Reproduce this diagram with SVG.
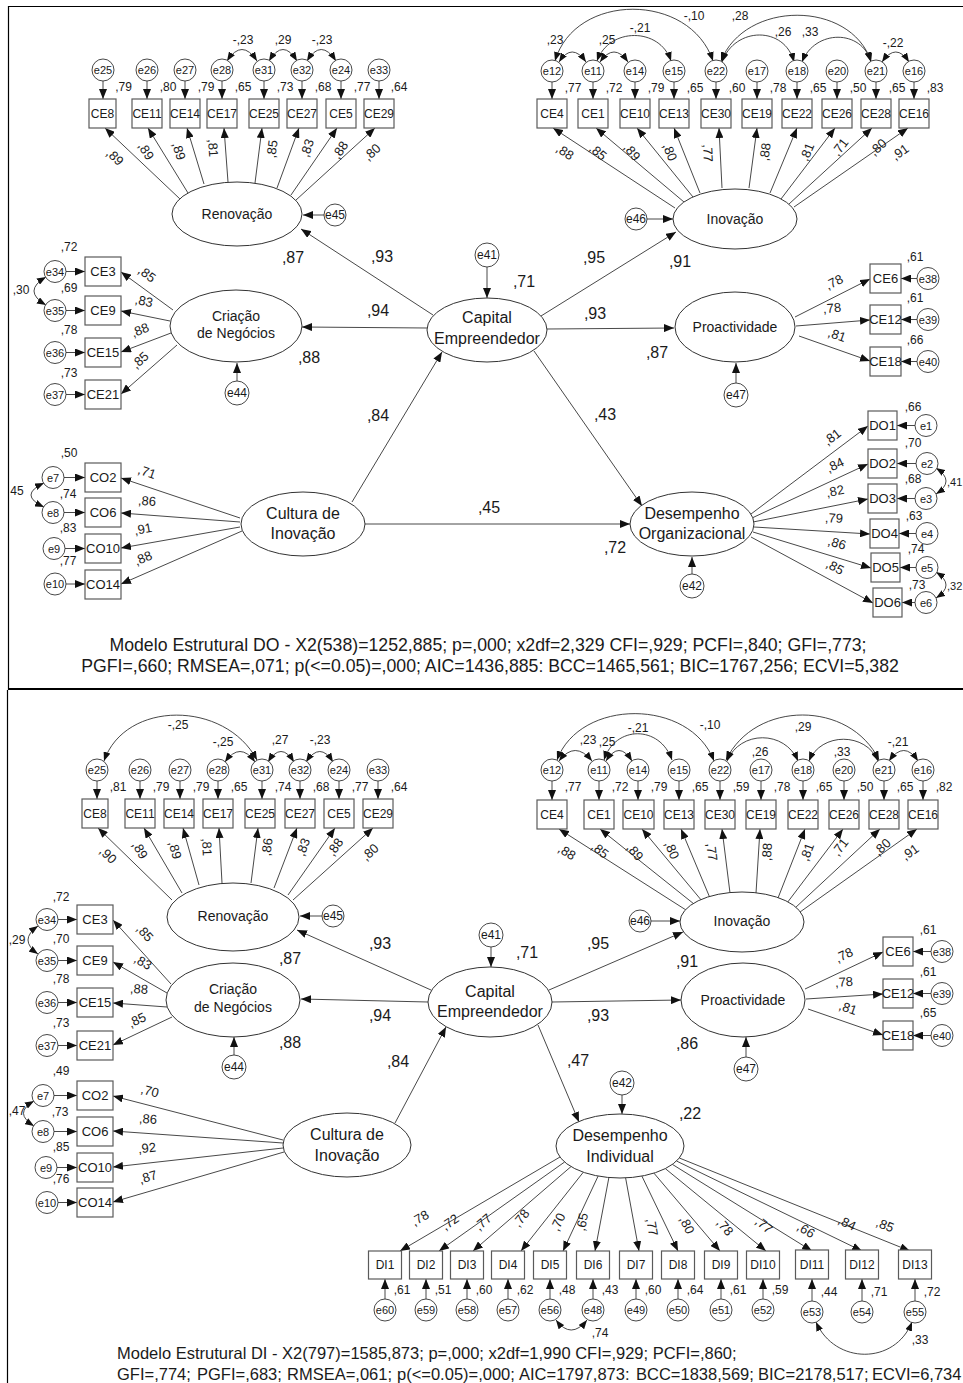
<svg xmlns="http://www.w3.org/2000/svg" width="963" height="1383" viewBox="0 0 963 1383">
<defs>
<style>
text{font-family:"Liberation Sans",Arial,sans-serif;fill:#1a1a1a;text-anchor:middle;dominant-baseline:central}
.bx{fill:#fff;stroke:#5a5a5a;stroke-width:1.2}
.el{fill:#fff;stroke:#333;stroke-width:1}
.ec{fill:#fff;stroke:#333;stroke-width:0.9}
.fr{stroke:#000;fill:none}
#connectors path{fill:none;stroke:#333;stroke-width:0.9}
.ar{marker-end:url(#a)}
.cv{marker-start:url(#s);marker-end:url(#s)}
.b12{font-size:12px}
.b13{font-size:13px}
.e11{font-size:11px}
.e12{font-size:12px}
.l14{font-size:14px}
.l16{font-size:16px}
.v{font-size:12px}
.p{font-size:13px}
.s{font-size:16px}
.cap{text-anchor:start;dominant-baseline:auto;white-space:pre}
</style>
<marker id="a" viewBox="0 0 10 8" refX="10" refY="4" markerWidth="10" markerHeight="8" markerUnits="userSpaceOnUse" orient="auto"><path d="M0,0L10,4L0,8z" fill="#111"/></marker>
<marker id="s" viewBox="0 0 9 7" refX="9" refY="3.5" markerWidth="9" markerHeight="7" markerUnits="userSpaceOnUse" orient="auto-start-reverse"><path d="M0,0L9,3.5L0,7z" fill="#111"/></marker>
</defs>
<rect width="963" height="1383" fill="#fff"/>
<g id="frame" class="fr">
<path d="M8,6.5H963M8.5,6V690" stroke-width="1.2"/>
<path d="M8,689H963" stroke-width="2"/>
<path d="M7.5,690V1383" stroke-width="1.2"/>
</g>

<g id="connectors">
<!-- TOP Renovacao -->
<path class="ar" d="M103,81V99"/><path class="ar" d="M147,81V99"/><path class="ar" d="M185,81V99"/><path class="ar" d="M222,81V99"/>
<path class="ar" d="M264,81V99"/><path class="ar" d="M302,81V99"/><path class="ar" d="M341,81V99"/><path class="ar" d="M379,81V99"/>
<path class="ar" d="M180,199L105,128"/><path class="ar" d="M188,193L148,128"/><path class="ar" d="M204,184L187,128"/><path class="ar" d="M228,182L224,128"/>
<path class="ar" d="M255,183L262,128"/><path class="ar" d="M277,188L299,128"/><path class="ar" d="M291,195L337,128"/><path class="ar" d="M296,200L375,128"/>
<path class="cv" d="M227,61Q242,38 257,61"/><path class="cv" d="M269,61Q283,38 297,61"/><path class="cv" d="M307,61Q321,38 336,61"/>
<path class="ar" d="M324,215H303"/>
<!-- TOP Inovacao -->
<path class="ar" d="M552,82V99"/><path class="ar" d="M593,82V99"/><path class="ar" d="M635,82V99"/><path class="ar" d="M674,82V99"/><path class="ar" d="M716,82V99"/>
<path class="ar" d="M757,82V99"/><path class="ar" d="M797,82V99"/><path class="ar" d="M837,82V99"/><path class="ar" d="M876,82V99"/><path class="ar" d="M914,82V99"/>
<path class="ar" d="M675,208L553,128"/><path class="ar" d="M684,202L596,128"/><path class="ar" d="M693,197L637,128"/><path class="ar" d="M700,193L674,128"/><path class="ar" d="M722,188L719,128"/>
<path class="ar" d="M749,188L757,128"/><path class="ar" d="M770,193L797,128"/><path class="ar" d="M781,199L835,128"/><path class="ar" d="M789,204L872,128"/><path class="ar" d="M794,207L908,128"/>
<path class="cv" d="M559,62Q572,42 586,62"/><path class="cv" d="M600,62Q614,42 628,62"/><path class="cv" d="M597,61C609,27 660,27 671,61"/>
<path class="cv" d="M555,61C575,-8 690,-8 713,61"/><path class="cv" d="M721,61C745,0 850,0 871,61"/><path class="cv" d="M722,62C735,26 785,26 794,62"/>
<path class="cv" d="M802,62C815,29 862,29 871,62"/><path class="cv" d="M882,62Q896,42 909,62"/>
<path class="ar" d="M647,219H673"/>
<!-- TOP structural -->
<path class="ar" d="M487,267V298"/>
<path class="ar" d="M433,315L301,229"/><path class="ar" d="M427,328L302,327"/><path class="ar" d="M541,316L676,232"/>
<path class="ar" d="M547,329L674,328"/><path class="ar" d="M534,351L642,506"/><path class="ar" d="M352,502L442,352"/><path class="ar" d="M365,524L630,524"/>
<!-- TOP Criacao -->
<path class="ar" d="M66,271.5H85"/><path class="ar" d="M66,310.5H85"/><path class="ar" d="M66,352.5H85"/><path class="ar" d="M66,394.5H85"/>
<path class="ar" d="M173,310L121,272"/><path class="ar" d="M170,321L121,311"/><path class="ar" d="M171,333L121,352"/><path class="ar" d="M177,345L121,394"/>
<path class="cv" d="M46,277Q22,291 46,305"/>
<path class="ar" d="M237,381V363"/>
<!-- TOP Cultura -->
<path class="ar" d="M64,477.5H85"/><path class="ar" d="M64,512.5H85"/><path class="ar" d="M65,548.5H85"/><path class="ar" d="M66,584H85"/>
<path class="ar" d="M240,518L121,478"/><path class="ar" d="M240,522L121,513"/><path class="ar" d="M240,527L121,548"/><path class="ar" d="M242,531L121,584"/>
<path class="cv" d="M44,483Q18,495 44,507"/>
<!-- TOP Proactividade -->
<path class="ar" d="M736,383V363"/>
<path class="ar" d="M795,317L870,279"/><path class="ar" d="M796,326L870,320"/><path class="ar" d="M799,336L870,361"/>
<path class="ar" d="M917,278.5H901"/><path class="ar" d="M917,319.5H901"/><path class="ar" d="M917,361.5H901"/>
<!-- TOP DO -->
<path class="ar" d="M692,574V557"/>
<path class="ar" d="M751,514L868,426"/><path class="ar" d="M752,518L868,464"/><path class="ar" d="M753,522L868,499"/>
<path class="ar" d="M754,527L870,534"/><path class="ar" d="M753,532L871,568"/><path class="ar" d="M751,537L873,603"/>
<path class="ar" d="M915,425.5H897"/><path class="ar" d="M916,463.5H897"/><path class="ar" d="M915,498.5H897"/>
<path class="ar" d="M916,533.5H899"/><path class="ar" d="M916,567.5H900"/><path class="ar" d="M915,602.5H902"/>
<path class="cv" d="M936,468Q956,481 936,494"/><path class="cv" d="M936,572Q956,585 936,598"/>

<!-- BOTTOM Renovacao -->
<path class="ar" d="M97,781V799"/><path class="ar" d="M140,781V799"/><path class="ar" d="M180,781V799"/><path class="ar" d="M218,781V799"/>
<path class="ar" d="M262,781V799"/><path class="ar" d="M300,781V799"/><path class="ar" d="M339,781V799"/><path class="ar" d="M378,781V799"/>
<path class="ar" d="M172,900L98,828"/><path class="ar" d="M182,893L144,828"/><path class="ar" d="M199,885L183,828"/><path class="ar" d="M222,883L219,828"/>
<path class="ar" d="M251,883L258,828"/><path class="ar" d="M274,888L297,828"/><path class="ar" d="M288,895L335,828"/><path class="ar" d="M293,900L373,828"/>
<path class="cv" d="M104,761C125,700 225,700 257,760"/><path class="cv" d="M225,762Q240,741 255,762"/>
<path class="cv" d="M268,762Q281,741 294,762"/><path class="cv" d="M306,762Q320,741 333,762"/>
<path class="ar" d="M322,916H300"/>
<!-- BOTTOM Inovacao -->
<path class="ar" d="M552,781V800"/><path class="ar" d="M599,781V800"/><path class="ar" d="M638,781V800"/><path class="ar" d="M679,781V800"/><path class="ar" d="M720,781V800"/>
<path class="ar" d="M761,781V800"/><path class="ar" d="M803,781V800"/><path class="ar" d="M844,781V800"/><path class="ar" d="M884,781V800"/><path class="ar" d="M923,781V800"/>
<path class="ar" d="M686,910L559,829"/><path class="ar" d="M694,904L600,829"/><path class="ar" d="M702,901L642,829"/><path class="ar" d="M710,898L681,829"/><path class="ar" d="M730,893L722,829"/>
<path class="ar" d="M756,893L760,829"/><path class="ar" d="M778,898L805,829"/><path class="ar" d="M787,903L843,829"/><path class="ar" d="M795,908L880,829"/><path class="ar" d="M800,912L917,829"/>
<path class="cv" d="M559,761Q575,740 592,761"/><path class="cv" d="M606,761Q619,740 632,761"/><path class="cv" d="M604,760C615,725 660,725 672,760"/>
<path class="cv" d="M557,760C580,698 690,698 714,761"/><path class="cv" d="M726,760C755,700 850,700 879,760"/><path class="cv" d="M727,761C740,730 785,730 798,761"/>
<path class="cv" d="M809,761C821,732 866,732 878,761"/><path class="cv" d="M889,761Q904,740 918,761"/>
<path class="ar" d="M651,921H680"/>
<!-- BOTTOM structural -->
<path class="ar" d="M491,947V967"/>
<path class="ar" d="M431,990L297,930"/><path class="ar" d="M428,1002L301,999"/><path class="ar" d="M549,990L683,932"/>
<path class="ar" d="M552,1002L681,1000"/><path class="ar" d="M538,1025L579,1122"/><path class="ar" d="M395,1123L446,1027"/>
<!-- BOTTOM Criacao -->
<path class="ar" d="M58,919.5H77"/><path class="ar" d="M58,960.5H77"/><path class="ar" d="M58,1002.5H77"/><path class="ar" d="M58,1045.5H77"/>
<path class="ar" d="M171,984L113,920"/><path class="ar" d="M167,993L113,962"/><path class="ar" d="M167,1007L113,1003"/><path class="ar" d="M172,1017L113,1045"/>
<path class="cv" d="M38,926Q18,940 38,954"/>
<path class="ar" d="M234,1055V1037"/>
<!-- BOTTOM Cultura -->
<path class="ar" d="M54,1095.5H77"/><path class="ar" d="M54,1131.5H77"/><path class="ar" d="M57,1167.5H77"/><path class="ar" d="M58,1202.5H77"/>
<path class="ar" d="M283,1140L113,1096"/><path class="ar" d="M283,1143L113,1131"/><path class="ar" d="M283,1148L113,1167"/><path class="ar" d="M284,1152L113,1202"/>
<path class="cv" d="M34,1101Q13,1113 34,1126"/>
<!-- BOTTOM Proactividade -->
<path class="ar" d="M746,1057V1037"/>
<path class="ar" d="M805,989L883,952"/><path class="ar" d="M806,999L883,994"/><path class="ar" d="M808,1009L883,1035"/>
<path class="ar" d="M931,951.5H913"/><path class="ar" d="M931,993.5H913"/><path class="ar" d="M931,1035.5H913"/>
<!-- BOTTOM DI -->
<path class="ar" d="M622,1095V1114"/>
<path class="ar" d="M560,1157L400,1251"/><path class="ar" d="M564.6,1162L439,1251"/><path class="ar" d="M571,1166.6L473,1251"/><path class="ar" d="M583.3,1172.2L521,1251"/>
<path class="ar" d="M598.1,1176.1L563,1251"/><path class="ar" d="M608.9,1177.5L595,1251"/><path class="ar" d="M625.6,1177.9L639,1251"/><path class="ar" d="M641.9,1176.1L678,1251"/>
<path class="ar" d="M653.9,1173.1L720,1251"/><path class="ar" d="M665.3,1168.6L766,1251"/><path class="ar" d="M672.4,1164.4L812,1251"/><path class="ar" d="M676.5,1161L862,1251"/><path class="ar" d="M679.3,1158L910,1251"/>
<path class="ar" d="M385,1299V1279"/><path class="ar" d="M426,1299V1279"/><path class="ar" d="M467,1299V1279"/><path class="ar" d="M508,1299V1279"/><path class="ar" d="M550,1299V1279"/>
<path class="ar" d="M593,1299V1279"/><path class="ar" d="M636,1299V1279"/><path class="ar" d="M678,1299V1279"/><path class="ar" d="M721,1299V1279"/><path class="ar" d="M763,1299V1279"/>
<path class="ar" d="M812,1301V1279"/><path class="ar" d="M862,1301V1279"/><path class="ar" d="M915,1301V1279"/>
<path class="cv" d="M556,1320Q571,1340 587,1320"/><path class="cv" d="M816,1322C835,1365 895,1365 912,1322"/>
</g>

<g id="connector-labels">
<!-- top Renovacao -->
<text class="p" transform="translate(115,157) rotate(43)">,89</text>
<text class="p" transform="translate(146,151) rotate(58)">,89</text>
<text class="p" transform="translate(179,151) rotate(73)">,89</text>
<text class="p" transform="translate(213,148) rotate(86)">,81</text>
<text class="p" transform="translate(272,149) rotate(-83)">,85</text>
<text class="p" transform="translate(307,148) rotate(-70)">,83</text>
<text class="p" transform="translate(340,150) rotate(-56)">,88</text>
<text class="p" transform="translate(372,152) rotate(-42)">,80</text>
<text class="v" x="123.5" y="87">,79</text><text class="v" x="168" y="87">,80</text><text class="v" x="206" y="87">,79</text><text class="v" x="243" y="87">,65</text>
<text class="v" x="285" y="87">,73</text><text class="v" x="323" y="87">,68</text><text class="v" x="362" y="87">,77</text><text class="v" x="399" y="87">,64</text>
<text class="v" x="243" y="40">-,23</text><text class="v" x="283" y="40">,29</text><text class="v" x="322" y="40">-,23</text>
<!-- top Inovacao -->
<text class="p" transform="translate(565,152) rotate(33)">,88</text>
<text class="p" transform="translate(598,152) rotate(40)">,85</text>
<text class="p" transform="translate(632,152) rotate(51)">,89</text>
<text class="p" transform="translate(670,152) rotate(68)">,80</text>
<text class="p" transform="translate(708,153) rotate(87)">,77</text>
<text class="p" transform="translate(765,152) rotate(-82)">,88</text>
<text class="p" transform="translate(807,152) rotate(-67)">,81</text>
<text class="p" transform="translate(840,147) rotate(-53)">,71</text>
<text class="p" transform="translate(878,147) rotate(-42)">,80</text>
<text class="p" transform="translate(900,152) rotate(-35)">,91</text>
<text class="v" x="573" y="88">,77</text><text class="v" x="614" y="88">,72</text><text class="v" x="656" y="88">,79</text><text class="v" x="695" y="88">,65</text><text class="v" x="737" y="88">,60</text>
<text class="v" x="778" y="88">,78</text><text class="v" x="818" y="88">,65</text><text class="v" x="858" y="88">,50</text><text class="v" x="897" y="88">,65</text><text class="v" x="935" y="88">,83</text>
<text class="v" x="555" y="40">,23</text><text class="v" x="607" y="40">,25</text><text class="v" x="640" y="28">-,21</text><text class="v" x="694" y="16">-,10</text>
<text class="v" x="740" y="16">,28</text><text class="v" x="783" y="32">,26</text><text class="v" x="810" y="32">,33</text><text class="v" x="893" y="43">-,22</text>
<!-- top structural -->
<text class="s" x="382" y="256">,93</text><text class="s" x="378" y="310">,94</text><text class="s" x="594" y="257">,95</text><text class="s" x="595" y="313">,93</text>
<text class="s" x="605" y="414">,43</text><text class="s" x="378" y="415">,84</text><text class="s" x="489" y="507">,45</text>
<text class="s" x="293" y="257">,87</text><text class="s" x="309" y="357">,88</text><text class="s" x="680" y="261">,91</text><text class="s" x="657" y="352">,87</text>
<text class="s" x="615" y="547">,72</text><text class="s" x="524" y="281">,71</text>
<!-- top Criacao -->
<text class="p" transform="translate(147,274) rotate(37)">,85</text>
<text class="p" transform="translate(144,301) rotate(12)">,83</text>
<text class="p" transform="translate(140,330) rotate(-21)">,88</text>
<text class="p" transform="translate(140,360) rotate(-42)">,85</text>
<text class="v" x="69" y="247">,72</text><text class="v" x="69" y="288">,69</text><text class="v" x="69" y="330">,78</text><text class="v" x="69" y="373">,73</text>
<text class="v" x="21" y="290">,30</text>
<!-- top Cultura -->
<text class="p" transform="translate(147,472) rotate(19)">,71</text>
<text class="p" transform="translate(147,501) rotate(4)">,86</text>
<text class="p" transform="translate(143,529) rotate(-10)">,91</text>
<text class="p" transform="translate(143,558) rotate(-23)">,88</text>
<text class="v" x="69" y="453">,50</text><text class="v" x="68" y="494">,74</text><text class="v" x="68" y="528">,83</text><text class="v" x="68" y="561">,77</text>
<text class="v" x="17" y="491">45</text>
<!-- top Proactividade -->
<text class="p" transform="translate(834,282) rotate(-27)">,78</text>
<text class="p" transform="translate(832,308) rotate(-4.5)">,78</text>
<text class="p" transform="translate(837,335) rotate(19)">,81</text>
<text class="v" x="915" y="257">,61</text><text class="v" x="915" y="298">,61</text><text class="v" x="915" y="340">,66</text>
<!-- top DO -->
<text class="p" transform="translate(832,437) rotate(-37)">,81</text>
<text class="p" transform="translate(835,465) rotate(-25)">,84</text>
<text class="p" transform="translate(835,491) rotate(-11)">,82</text>
<text class="p" transform="translate(834,518) rotate(3.5)">,79</text>
<text class="p" transform="translate(837,543) rotate(17)">,86</text>
<text class="p" transform="translate(835,567) rotate(28.5)">,85</text>
<text class="v" x="913" y="407">,66</text><text class="v" x="913" y="443">,70</text><text class="v" x="913" y="479">,68</text>
<text class="v" x="914" y="516">,63</text><text class="v" x="916" y="549">,74</text><text class="v" x="917" y="585">,73</text>
<text x="947" y="482" style="text-anchor:start;font-size:11px">,41</text><text x="947" y="586" style="text-anchor:start;font-size:11px">,32</text>

<!-- bottom Renovacao -->
<text class="p" transform="translate(108,855) rotate(44)">,90</text>
<text class="p" transform="translate(140,850) rotate(60)">,89</text>
<text class="p" transform="translate(175,850) rotate(74)">,89</text>
<text class="p" transform="translate(207,847) rotate(87)">,81</text>
<text class="p" transform="translate(267,847) rotate(-83)">,86</text>
<text class="p" transform="translate(303,847) rotate(-69)">,83</text>
<text class="p" transform="translate(335,847) rotate(-55)">,88</text>
<text class="p" transform="translate(370,852) rotate(-42)">,80</text>
<text class="v" x="118" y="787">,81</text><text class="v" x="161" y="787">,79</text><text class="v" x="201" y="787">,79</text><text class="v" x="239" y="787">,65</text>
<text class="v" x="283" y="787">,74</text><text class="v" x="321" y="787">,68</text><text class="v" x="360" y="787">,77</text><text class="v" x="399" y="787">,64</text>
<text class="v" x="178" y="725">-,25</text><text class="v" x="223" y="742">-,25</text><text class="v" x="280" y="740">,27</text><text class="v" x="320" y="740">-,23</text>
<!-- bottom Inovacao -->
<text class="p" transform="translate(567,852) rotate(32.5)">,88</text>
<text class="p" transform="translate(600,850) rotate(38.6)">,85</text>
<text class="p" transform="translate(635,852) rotate(50)">,89</text>
<text class="p" transform="translate(672,850) rotate(67)">,80</text>
<text class="p" transform="translate(712,852) rotate(83)">,77</text>
<text class="p" transform="translate(767,852) rotate(-86)">,88</text>
<text class="p" transform="translate(807,852) rotate(-69)">,81</text>
<text class="p" transform="translate(840,847) rotate(-53)">,71</text>
<text class="p" transform="translate(882,847) rotate(-43)">,80</text>
<text class="p" transform="translate(910,852) rotate(-35)">,91</text>
<text class="v" x="573" y="787">,77</text><text class="v" x="620" y="787">,72</text><text class="v" x="659" y="787">,79</text><text class="v" x="700" y="787">,65</text><text class="v" x="741" y="787">,59</text>
<text class="v" x="782" y="787">,78</text><text class="v" x="824" y="787">,65</text><text class="v" x="865" y="787">,50</text><text class="v" x="905" y="787">,65</text><text class="v" x="944" y="787">,82</text>
<text class="v" x="588" y="740">,23</text><text class="v" x="607" y="742">,25</text><text class="v" x="638" y="728">-,21</text><text class="v" x="710" y="725">-,10</text>
<text class="v" x="803" y="727">,29</text><text class="v" x="760" y="752">,26</text><text class="v" x="842" y="752">,33</text><text class="v" x="898" y="742">-,21</text>
<!-- bottom structural -->
<text class="s" x="380" y="943">,93</text><text class="s" x="380" y="1015">,94</text><text class="s" x="398" y="1061">,84</text>
<text class="s" x="598" y="943">,95</text><text class="s" x="598" y="1015">,93</text><text class="s" x="578" y="1060">,47</text>
<text class="s" x="290" y="958">,87</text><text class="s" x="290" y="1042">,88</text><text class="s" x="687" y="961">,91</text>
<text class="s" x="687" y="1043">,86</text><text class="s" x="690" y="1113">,22</text><text class="s" x="527" y="952">,71</text>
<!-- bottom Criacao -->
<text class="p" transform="translate(145,933) rotate(48)">,85</text>
<text class="p" transform="translate(143,962) rotate(30)">,83</text>
<text class="p" transform="translate(139,989) rotate(4)">,88</text>
<text class="p" transform="translate(137,1020) rotate(-25)">,85</text>
<text class="v" x="61" y="897">,72</text><text class="v" x="61" y="939">,70</text><text class="v" x="61" y="979">,78</text><text class="v" x="61" y="1023">,73</text>
<text class="v" x="17" y="940">,29</text>
<!-- bottom Cultura -->
<text class="p" transform="translate(150,1091) rotate(14.7)">,70</text>
<text class="p" transform="translate(148,1119) rotate(4)">,86</text>
<text class="p" transform="translate(147,1148) rotate(-6)">,92</text>
<text class="p" transform="translate(148,1177) rotate(-16.5)">,87</text>
<text class="v" x="61" y="1071">,49</text><text class="v" x="60" y="1112">,73</text><text class="v" x="61" y="1147">,85</text><text class="v" x="61" y="1179">,76</text>
<text class="v" x="17" y="1111">,47</text>
<!-- bottom Proactividade -->
<text class="p" transform="translate(844,955) rotate(-25)">,78</text>
<text class="p" transform="translate(844,982) rotate(-4)">,78</text>
<text class="p" transform="translate(848,1008) rotate(19)">,81</text>
<text class="v" x="928" y="930">,61</text><text class="v" x="928" y="972">,61</text><text class="v" x="928" y="1013">,65</text>
<!-- bottom DI -->
<text class="p" transform="translate(420,1218) rotate(-30)">,78</text>
<text class="p" transform="translate(450,1222) rotate(-35)">,72</text>
<text class="p" transform="translate(483,1222) rotate(-41)">,77</text>
<text class="p" transform="translate(521,1218) rotate(-52)">,78</text>
<text class="p" transform="translate(558,1222) rotate(-65)">,70</text>
<text class="p" transform="translate(582,1222) rotate(-79)">,65</text>
<text class="p" transform="translate(652,1227) rotate(80)">,77</text>
<text class="p" transform="translate(687,1225) rotate(64)">,80</text>
<text class="p" transform="translate(725,1227) rotate(50)">,78</text>
<text class="p" transform="translate(764,1225) rotate(39)">,77</text>
<text class="p" transform="translate(806,1230) rotate(32)">,66</text>
<text class="p" transform="translate(847,1223) rotate(26)">,84</text>
<text class="p" transform="translate(885,1225) rotate(22)">,85</text>
<text class="v" x="402" y="1290">,61</text><text class="v" x="443" y="1290">,51</text><text class="v" x="484" y="1290">,60</text><text class="v" x="525" y="1290">,62</text><text class="v" x="567" y="1290">,48</text>
<text class="v" x="610" y="1290">,43</text><text class="v" x="653" y="1290">,60</text><text class="v" x="695" y="1290">,64</text><text class="v" x="738" y="1290">,61</text><text class="v" x="780" y="1290">,59</text>
<text class="v" x="829" y="1292">,44</text><text class="v" x="879" y="1292">,71</text><text class="v" x="932" y="1292">,72</text>
<text class="v" x="600" y="1333">,74</text><text class="v" x="920" y="1340">,33</text>
</g>

<!-- ===== TOP NODES ===== -->
<g id="t-Renovacao"><ellipse class="el" cx="237" cy="214" rx="65" ry="32"/><text class="l14" x="237" y="214">Renovação</text></g>
<g id="t-Inovacao"><ellipse class="el" cx="735" cy="219" rx="62" ry="30"/><text class="l14" x="735" y="219">Inovação</text></g>
<g id="t-Capital"><ellipse class="el" cx="487" cy="330" rx="60" ry="32"/><text class="l16" x="487" y="317">Capital</text><text class="l16" x="487" y="338">Empreendedor</text></g>
<g id="t-Criacao"><ellipse class="el" cx="236" cy="326" rx="66" ry="36"/><text class="l14" x="236" y="316">Criação</text><text class="l14" x="236" y="333">de Negócios</text></g>
<g id="t-Proactividade"><ellipse class="el" cx="735" cy="327" rx="60" ry="35"/><text class="l14" x="735" y="327">Proactividade</text></g>
<g id="t-Cultura"><ellipse class="el" cx="303" cy="524" rx="62" ry="32"/><text class="l16" x="303" y="513">Cultura de</text><text class="l16" x="303" y="533">Inovação</text></g>
<g id="t-DO"><ellipse class="el" cx="692" cy="524" rx="62" ry="32"/><text class="l16" x="692" y="513">Desempenho</text><text class="l16" x="692" y="533">Organizacional</text></g>
<g id="t-e45"><circle class="ec" cx="335" cy="215" r="11"/><text class="e12" x="335" y="215">e45</text></g>
<g id="t-e46"><circle class="ec" cx="636" cy="219" r="11"/><text class="e12" x="636" y="219">e46</text></g>
<g id="t-e41"><circle class="ec" cx="487" cy="255" r="12"/><text class="e12" x="487" y="255">e41</text></g>
<g id="t-e44"><circle class="ec" cx="237" cy="393" r="12"/><text class="e12" x="237" y="393">e44</text></g>
<g id="t-e47"><circle class="ec" cx="736" cy="395" r="12"/><text class="e12" x="736" y="395">e47</text></g>
<g id="t-e42"><circle class="ec" cx="692" cy="586" r="12"/><text class="e12" x="692" y="586">e42</text></g>

<g id="t-CE8"><rect class="bx" x="89" y="99" width="27" height="29"/><text class="b12" x="102.5" y="113.5">CE8</text></g>
<g id="t-CE11"><rect class="bx" x="132" y="99" width="30" height="29"/><text class="b12" x="147" y="113.5">CE11</text></g>
<g id="t-CE14"><rect class="bx" x="170" y="99" width="30" height="29"/><text class="b12" x="185" y="113.5">CE14</text></g>
<g id="t-CE17"><rect class="bx" x="207" y="99" width="30" height="29"/><text class="b12" x="222" y="113.5">CE17</text></g>
<g id="t-CE25"><rect class="bx" x="249" y="99" width="30" height="29"/><text class="b12" x="264" y="113.5">CE25</text></g>
<g id="t-CE27"><rect class="bx" x="287" y="99" width="30" height="29"/><text class="b12" x="302" y="113.5">CE27</text></g>
<g id="t-CE5"><rect class="bx" x="326" y="99" width="30" height="29"/><text class="b12" x="341" y="113.5">CE5</text></g>
<g id="t-CE29"><rect class="bx" x="364" y="99" width="30" height="29"/><text class="b12" x="379" y="113.5">CE29</text></g>
<g id="t-e25"><circle class="ec" cx="103" cy="70" r="11"/><text class="e11" x="103" y="70">e25</text></g>
<g id="t-e26"><circle class="ec" cx="147" cy="70" r="11"/><text class="e11" x="147" y="70">e26</text></g>
<g id="t-e27"><circle class="ec" cx="185" cy="70" r="11"/><text class="e11" x="185" y="70">e27</text></g>
<g id="t-e28"><circle class="ec" cx="222" cy="70" r="11"/><text class="e11" x="222" y="70">e28</text></g>
<g id="t-e31"><circle class="ec" cx="264" cy="70" r="11"/><text class="e11" x="264" y="70">e31</text></g>
<g id="t-e32"><circle class="ec" cx="302" cy="70" r="11"/><text class="e11" x="302" y="70">e32</text></g>
<g id="t-e24"><circle class="ec" cx="341" cy="70" r="11"/><text class="e11" x="341" y="70">e24</text></g>
<g id="t-e33"><circle class="ec" cx="379" cy="70" r="11"/><text class="e11" x="379" y="70">e33</text></g>

<g id="t-CE4"><rect class="bx" x="537" y="99" width="30" height="29"/><text class="b12" x="552" y="113.5">CE4</text></g>
<g id="t-CE1"><rect class="bx" x="578" y="99" width="30" height="29"/><text class="b12" x="593" y="113.5">CE1</text></g>
<g id="t-CE10"><rect class="bx" x="620" y="99" width="30" height="29"/><text class="b12" x="635" y="113.5">CE10</text></g>
<g id="t-CE13"><rect class="bx" x="659" y="99" width="30" height="29"/><text class="b12" x="674" y="113.5">CE13</text></g>
<g id="t-CE30"><rect class="bx" x="701" y="99" width="30" height="29"/><text class="b12" x="716" y="113.5">CE30</text></g>
<g id="t-CE19"><rect class="bx" x="742" y="99" width="30" height="29"/><text class="b12" x="757" y="113.5">CE19</text></g>
<g id="t-CE22"><rect class="bx" x="782" y="99" width="30" height="29"/><text class="b12" x="797" y="113.5">CE22</text></g>
<g id="t-CE26"><rect class="bx" x="822" y="99" width="30" height="29"/><text class="b12" x="837" y="113.5">CE26</text></g>
<g id="t-CE28"><rect class="bx" x="861" y="99" width="30" height="29"/><text class="b12" x="876" y="113.5">CE28</text></g>
<g id="t-CE16"><rect class="bx" x="899" y="99" width="30" height="29"/><text class="b12" x="914" y="113.5">CE16</text></g>
<g id="t-e12"><circle class="ec" cx="552" cy="71" r="11"/><text class="e11" x="552" y="71">e12</text></g>
<g id="t-e11"><circle class="ec" cx="593" cy="71" r="11"/><text class="e11" x="593" y="71">e11</text></g>
<g id="t-e14"><circle class="ec" cx="635" cy="71" r="11"/><text class="e11" x="635" y="71">e14</text></g>
<g id="t-e15"><circle class="ec" cx="674" cy="71" r="11"/><text class="e11" x="674" y="71">e15</text></g>
<g id="t-e22"><circle class="ec" cx="716" cy="71" r="11"/><text class="e11" x="716" y="71">e22</text></g>
<g id="t-e17"><circle class="ec" cx="757" cy="71" r="11"/><text class="e11" x="757" y="71">e17</text></g>
<g id="t-e18"><circle class="ec" cx="797" cy="71" r="11"/><text class="e11" x="797" y="71">e18</text></g>
<g id="t-e20"><circle class="ec" cx="837" cy="71" r="11"/><text class="e11" x="837" y="71">e20</text></g>
<g id="t-e21"><circle class="ec" cx="876" cy="71" r="11"/><text class="e11" x="876" y="71">e21</text></g>
<g id="t-e16"><circle class="ec" cx="914" cy="71" r="11"/><text class="e11" x="914" y="71">e16</text></g>

<g id="t-CE3"><rect class="bx" x="85" y="257" width="36" height="29"/><text class="b13" x="103" y="271.5">CE3</text></g>
<g id="t-CE9"><rect class="bx" x="85" y="296" width="36" height="29"/><text class="b13" x="103" y="310.5">CE9</text></g>
<g id="t-CE15"><rect class="bx" x="85" y="338" width="36" height="29"/><text class="b13" x="103" y="352.5">CE15</text></g>
<g id="t-CE21"><rect class="bx" x="85" y="380" width="36" height="29"/><text class="b13" x="103" y="394.5">CE21</text></g>
<g id="t-e34"><circle class="ec" cx="55" cy="271.5" r="11"/><text class="e11" x="55" y="271.5">e34</text></g>
<g id="t-e35"><circle class="ec" cx="55" cy="310.5" r="11"/><text class="e11" x="55" y="310.5">e35</text></g>
<g id="t-e36"><circle class="ec" cx="55" cy="352.5" r="11"/><text class="e11" x="55" y="352.5">e36</text></g>
<g id="t-e37"><circle class="ec" cx="55" cy="394.5" r="11"/><text class="e11" x="55" y="394.5">e37</text></g>

<g id="t-CO2"><rect class="bx" x="85" y="463" width="36" height="29"/><text class="b13" x="103" y="477.5">CO2</text></g>
<g id="t-CO6"><rect class="bx" x="85" y="498" width="36" height="29"/><text class="b13" x="103" y="512.5">CO6</text></g>
<g id="t-CO10"><rect class="bx" x="85" y="534" width="36" height="29"/><text class="b13" x="103" y="548.5">CO10</text></g>
<g id="t-CO14"><rect class="bx" x="85" y="570" width="36" height="29"/><text class="b13" x="103" y="584.5">CO14</text></g>
<g id="t-e7"><circle class="ec" cx="53" cy="477.5" r="11"/><text class="e11" x="53" y="477.5">e7</text></g>
<g id="t-e8"><circle class="ec" cx="53" cy="512.5" r="11"/><text class="e11" x="53" y="512.5">e8</text></g>
<g id="t-e9"><circle class="ec" cx="54" cy="548.5" r="11"/><text class="e11" x="54" y="548.5">e9</text></g>
<g id="t-e10"><circle class="ec" cx="55" cy="584" r="11"/><text class="e11" x="55" y="584">e10</text></g>

<g id="t-CE6"><rect class="bx" x="870" y="264" width="31" height="29"/><text class="b13" x="885.5" y="278.5">CE6</text></g>
<g id="t-CE12"><rect class="bx" x="870" y="305" width="31" height="29"/><text class="b13" x="885.5" y="319.5">CE12</text></g>
<g id="t-CE18"><rect class="bx" x="870" y="347" width="31" height="29"/><text class="b13" x="885.5" y="361.5">CE18</text></g>
<g id="t-e38"><circle class="ec" cx="928" cy="278.5" r="11"/><text class="e11" x="928" y="278.5">e38</text></g>
<g id="t-e39"><circle class="ec" cx="928" cy="319.5" r="11"/><text class="e11" x="928" y="319.5">e39</text></g>
<g id="t-e40"><circle class="ec" cx="928" cy="361.5" r="11"/><text class="e11" x="928" y="361.5">e40</text></g>

<g id="t-DO1"><rect class="bx" x="868" y="411" width="29" height="29"/><text class="b13" x="882.5" y="425.5">DO1</text></g>
<g id="t-DO2"><rect class="bx" x="868" y="449" width="29" height="29"/><text class="b13" x="882.5" y="463.5">DO2</text></g>
<g id="t-DO3"><rect class="bx" x="868" y="484" width="29" height="29"/><text class="b13" x="882.5" y="498.5">DO3</text></g>
<g id="t-DO4"><rect class="bx" x="870" y="519" width="29" height="29"/><text class="b13" x="884.5" y="533.5">DO4</text></g>
<g id="t-DO5"><rect class="bx" x="871" y="553" width="29" height="29"/><text class="b13" x="885.5" y="567.5">DO5</text></g>
<g id="t-DO6"><rect class="bx" x="873" y="588" width="29" height="29"/><text class="b13" x="887.5" y="602.5">DO6</text></g>
<g id="t-e1"><circle class="ec" cx="926" cy="425.5" r="11"/><text class="e11" x="926" y="425.5">e1</text></g>
<g id="t-e2"><circle class="ec" cx="927" cy="463.5" r="11"/><text class="e11" x="927" y="463.5">e2</text></g>
<g id="t-e3"><circle class="ec" cx="926" cy="498.5" r="11"/><text class="e11" x="926" y="498.5">e3</text></g>
<g id="t-e4"><circle class="ec" cx="927" cy="533.5" r="11"/><text class="e11" x="927" y="533.5">e4</text></g>
<g id="t-e5"><circle class="ec" cx="927" cy="567.5" r="11"/><text class="e11" x="927" y="567.5">e5</text></g>
<g id="t-e6"><circle class="ec" cx="926" cy="602.5" r="11"/><text class="e11" x="926" y="602.5">e6</text></g>

<g id="t-caption">
<text class="cap" x="488" y="651" style="font-size:17.7px;text-anchor:middle">Modelo Estrutural DO - X2(538)=1252,885; p=,000; x2df=2,329 CFI=,929; PCFI=,840; GFI=,773;</text>
<text class="cap" x="490" y="672" style="font-size:17.7px;text-anchor:middle">PGFI=,660; RMSEA=,071; p(&lt;=0.05)=,000; AIC=1436,885: BCC=1465,561; BIC=1767,256; ECVI=5,382</text>
</g>

<!-- ===== BOTTOM NODES ===== -->
<g id="b-Renovacao"><ellipse class="el" cx="233" cy="917" rx="66" ry="34"/><text class="l14" x="233" y="916">Renovação</text></g>
<g id="b-Inovacao"><ellipse class="el" cx="742" cy="922" rx="62" ry="30"/><text class="l14" x="742" y="921">Inovação</text></g>
<g id="b-Capital"><ellipse class="el" cx="490" cy="1002" rx="62" ry="35"/><text class="l16" x="490" y="991">Capital</text><text class="l16" x="490" y="1011">Empreendedor</text></g>
<g id="b-Criacao"><ellipse class="el" cx="233" cy="1000" rx="67" ry="37"/><text class="l14" x="233" y="989">Criação</text><text class="l14" x="233" y="1007">de Negócios</text></g>
<g id="b-Proactividade"><ellipse class="el" cx="743" cy="1000" rx="62" ry="37"/><text class="l14" x="743" y="1000">Proactividade</text></g>
<g id="b-Cultura"><ellipse class="el" cx="347" cy="1145" rx="64" ry="32"/><text class="l16" x="347" y="1134">Cultura de</text><text class="l16" x="347" y="1155">Inovação</text></g>
<g id="b-DI"><ellipse class="el" cx="620" cy="1146" rx="64" ry="32"/><text class="l16" x="620" y="1135">Desempenho</text><text class="l16" x="620" y="1156">Individual</text></g>
<g id="b-e45"><circle class="ec" cx="333" cy="916" r="11"/><text class="e12" x="333" y="916">e45</text></g>
<g id="b-e46"><circle class="ec" cx="640" cy="921" r="11"/><text class="e12" x="640" y="921">e46</text></g>
<g id="b-e41"><circle class="ec" cx="491" cy="935" r="12"/><text class="e12" x="491" y="935">e41</text></g>
<g id="b-e44"><circle class="ec" cx="234" cy="1067" r="12"/><text class="e12" x="234" y="1067">e44</text></g>
<g id="b-e47"><circle class="ec" cx="746" cy="1069" r="12"/><text class="e12" x="746" y="1069">e47</text></g>
<g id="b-e42"><circle class="ec" cx="622" cy="1083" r="12"/><text class="e12" x="622" y="1083">e42</text></g>

<g id="b-CE8"><rect class="bx" x="82" y="799" width="26" height="29"/><text class="b12" x="95" y="813.5">CE8</text></g>
<g id="b-CE11"><rect class="bx" x="125" y="799" width="30" height="29"/><text class="b12" x="140" y="813.5">CE11</text></g>
<g id="b-CE14"><rect class="bx" x="164" y="799" width="30" height="29"/><text class="b12" x="179" y="813.5">CE14</text></g>
<g id="b-CE17"><rect class="bx" x="203" y="799" width="30" height="29"/><text class="b12" x="218" y="813.5">CE17</text></g>
<g id="b-CE25"><rect class="bx" x="245" y="799" width="30" height="29"/><text class="b12" x="260" y="813.5">CE25</text></g>
<g id="b-CE27"><rect class="bx" x="285" y="799" width="30" height="29"/><text class="b12" x="300" y="813.5">CE27</text></g>
<g id="b-CE5"><rect class="bx" x="324" y="799" width="30" height="29"/><text class="b12" x="339" y="813.5">CE5</text></g>
<g id="b-CE29"><rect class="bx" x="363" y="799" width="30" height="29"/><text class="b12" x="378" y="813.5">CE29</text></g>
<g id="b-e25"><circle class="ec" cx="97" cy="770" r="11"/><text class="e11" x="97" y="770">e25</text></g>
<g id="b-e26"><circle class="ec" cx="140" cy="770" r="11"/><text class="e11" x="140" y="770">e26</text></g>
<g id="b-e27"><circle class="ec" cx="180" cy="770" r="11"/><text class="e11" x="180" y="770">e27</text></g>
<g id="b-e28"><circle class="ec" cx="218" cy="770" r="11"/><text class="e11" x="218" y="770">e28</text></g>
<g id="b-e31"><circle class="ec" cx="262" cy="770" r="11"/><text class="e11" x="262" y="770">e31</text></g>
<g id="b-e32"><circle class="ec" cx="300" cy="770" r="11"/><text class="e11" x="300" y="770">e32</text></g>
<g id="b-e24"><circle class="ec" cx="339" cy="770" r="11"/><text class="e11" x="339" y="770">e24</text></g>
<g id="b-e33"><circle class="ec" cx="378" cy="770" r="11"/><text class="e11" x="378" y="770">e33</text></g>

<g id="b-CE4"><rect class="bx" x="537" y="800" width="30" height="29"/><text class="b12" x="552" y="814.5">CE4</text></g>
<g id="b-CE1"><rect class="bx" x="584" y="800" width="30" height="29"/><text class="b12" x="599" y="814.5">CE1</text></g>
<g id="b-CE10"><rect class="bx" x="623" y="800" width="31" height="29"/><text class="b12" x="638.5" y="814.5">CE10</text></g>
<g id="b-CE13"><rect class="bx" x="664" y="800" width="30" height="29"/><text class="b12" x="679" y="814.5">CE13</text></g>
<g id="b-CE30"><rect class="bx" x="705" y="800" width="30" height="29"/><text class="b12" x="720" y="814.5">CE30</text></g>
<g id="b-CE19"><rect class="bx" x="746" y="800" width="30" height="29"/><text class="b12" x="761" y="814.5">CE19</text></g>
<g id="b-CE22"><rect class="bx" x="788" y="800" width="30" height="29"/><text class="b12" x="803" y="814.5">CE22</text></g>
<g id="b-CE26"><rect class="bx" x="829" y="800" width="30" height="29"/><text class="b12" x="844" y="814.5">CE26</text></g>
<g id="b-CE28"><rect class="bx" x="869" y="800" width="30" height="29"/><text class="b12" x="884" y="814.5">CE28</text></g>
<g id="b-CE16"><rect class="bx" x="908" y="800" width="30" height="29"/><text class="b12" x="923" y="814.5">CE16</text></g>
<g id="b-e12"><circle class="ec" cx="552" cy="770" r="11"/><text class="e11" x="552" y="770">e12</text></g>
<g id="b-e11"><circle class="ec" cx="599" cy="770" r="11"/><text class="e11" x="599" y="770">e11</text></g>
<g id="b-e14"><circle class="ec" cx="638" cy="770" r="11"/><text class="e11" x="638" y="770">e14</text></g>
<g id="b-e15"><circle class="ec" cx="679" cy="770" r="11"/><text class="e11" x="679" y="770">e15</text></g>
<g id="b-e22"><circle class="ec" cx="720" cy="770" r="11"/><text class="e11" x="720" y="770">e22</text></g>
<g id="b-e17"><circle class="ec" cx="761" cy="770" r="11"/><text class="e11" x="761" y="770">e17</text></g>
<g id="b-e18"><circle class="ec" cx="803" cy="770" r="11"/><text class="e11" x="803" y="770">e18</text></g>
<g id="b-e20"><circle class="ec" cx="844" cy="770" r="11"/><text class="e11" x="844" y="770">e20</text></g>
<g id="b-e21"><circle class="ec" cx="884" cy="770" r="11"/><text class="e11" x="884" y="770">e21</text></g>
<g id="b-e16"><circle class="ec" cx="923" cy="770" r="11"/><text class="e11" x="923" y="770">e16</text></g>

<g id="b-CE3"><rect class="bx" x="77" y="905" width="36" height="29"/><text class="b13" x="95" y="919.5">CE3</text></g>
<g id="b-CE9"><rect class="bx" x="77" y="946" width="36" height="29"/><text class="b13" x="95" y="960.5">CE9</text></g>
<g id="b-CE15"><rect class="bx" x="77" y="988" width="36" height="29"/><text class="b13" x="95" y="1002.5">CE15</text></g>
<g id="b-CE21"><rect class="bx" x="77" y="1031" width="36" height="29"/><text class="b13" x="95" y="1045.5">CE21</text></g>
<g id="b-e34"><circle class="ec" cx="47" cy="919.5" r="11"/><text class="e11" x="47" y="919.5">e34</text></g>
<g id="b-e35"><circle class="ec" cx="47" cy="960.5" r="11"/><text class="e11" x="47" y="960.5">e35</text></g>
<g id="b-e36"><circle class="ec" cx="47" cy="1002.5" r="11"/><text class="e11" x="47" y="1002.5">e36</text></g>
<g id="b-e37"><circle class="ec" cx="47" cy="1045.5" r="11"/><text class="e11" x="47" y="1045.5">e37</text></g>

<g id="b-CO2"><rect class="bx" x="77" y="1081" width="36" height="29"/><text class="b13" x="95" y="1095.5">CO2</text></g>
<g id="b-CO6"><rect class="bx" x="77" y="1117" width="36" height="29"/><text class="b13" x="95" y="1131.5">CO6</text></g>
<g id="b-CO10"><rect class="bx" x="77" y="1153" width="36" height="29"/><text class="b13" x="95" y="1167.5">CO10</text></g>
<g id="b-CO14"><rect class="bx" x="77" y="1188" width="36" height="29"/><text class="b13" x="95" y="1202.5">CO14</text></g>
<g id="b-e7"><circle class="ec" cx="43" cy="1095.5" r="11"/><text class="e11" x="43" y="1095.5">e7</text></g>
<g id="b-e8"><circle class="ec" cx="43" cy="1131.5" r="11"/><text class="e11" x="43" y="1131.5">e8</text></g>
<g id="b-e9"><circle class="ec" cx="46" cy="1167.5" r="11"/><text class="e11" x="46" y="1167.5">e9</text></g>
<g id="b-e10"><circle class="ec" cx="47" cy="1202.5" r="11"/><text class="e11" x="47" y="1202.5">e10</text></g>

<g id="b-CE6"><rect class="bx" x="883" y="937" width="30" height="29"/><text class="b13" x="898" y="951.5">CE6</text></g>
<g id="b-CE12"><rect class="bx" x="883" y="979" width="30" height="29"/><text class="b13" x="898" y="993.5">CE12</text></g>
<g id="b-CE18"><rect class="bx" x="883" y="1021" width="30" height="29"/><text class="b13" x="898" y="1035.5">CE18</text></g>
<g id="b-e38"><circle class="ec" cx="942" cy="951.5" r="11"/><text class="e11" x="942" y="951.5">e38</text></g>
<g id="b-e39"><circle class="ec" cx="942" cy="993.5" r="11"/><text class="e11" x="942" y="993.5">e39</text></g>
<g id="b-e40"><circle class="ec" cx="942" cy="1035.5" r="11"/><text class="e11" x="942" y="1035.5">e40</text></g>

<g id="b-DI1"><rect class="bx" x="368.5" y="1251" width="33" height="28"/><text class="b12" x="385" y="1265">DI1</text></g>
<g id="b-DI2"><rect class="bx" x="409.5" y="1251" width="33" height="28"/><text class="b12" x="426" y="1265">DI2</text></g>
<g id="b-DI3"><rect class="bx" x="450.5" y="1251" width="33" height="28"/><text class="b12" x="467" y="1265">DI3</text></g>
<g id="b-DI4"><rect class="bx" x="491.5" y="1251" width="33" height="28"/><text class="b12" x="508" y="1265">DI4</text></g>
<g id="b-DI5"><rect class="bx" x="533.5" y="1251" width="33" height="28"/><text class="b12" x="550" y="1265">DI5</text></g>
<g id="b-DI6"><rect class="bx" x="576.5" y="1251" width="33" height="28"/><text class="b12" x="593" y="1265">DI6</text></g>
<g id="b-DI7"><rect class="bx" x="619.5" y="1251" width="33" height="28"/><text class="b12" x="636" y="1265">DI7</text></g>
<g id="b-DI8"><rect class="bx" x="661.5" y="1251" width="33" height="28"/><text class="b12" x="678" y="1265">DI8</text></g>
<g id="b-DI9"><rect class="bx" x="704.5" y="1251" width="33" height="28"/><text class="b12" x="721" y="1265">DI9</text></g>
<g id="b-DI10"><rect class="bx" x="746.5" y="1251" width="33" height="28"/><text class="b12" x="763" y="1265">DI10</text></g>
<g id="b-DI11"><rect class="bx" x="795.5" y="1250" width="33" height="29"/><text class="b12" x="812" y="1265">DI11</text></g>
<g id="b-DI12"><rect class="bx" x="845.5" y="1250" width="33" height="29"/><text class="b12" x="862" y="1265">DI12</text></g>
<g id="b-DI13"><rect class="bx" x="898.5" y="1250" width="33" height="29"/><text class="b12" x="915" y="1265">DI13</text></g>
<g id="b-e60"><circle class="ec" cx="385" cy="1310" r="11"/><text class="e11" x="385" y="1310">e60</text></g>
<g id="b-e59"><circle class="ec" cx="426" cy="1310" r="11"/><text class="e11" x="426" y="1310">e59</text></g>
<g id="b-e58"><circle class="ec" cx="467" cy="1310" r="11"/><text class="e11" x="467" y="1310">e58</text></g>
<g id="b-e57"><circle class="ec" cx="508" cy="1310" r="11"/><text class="e11" x="508" y="1310">e57</text></g>
<g id="b-e56"><circle class="ec" cx="550" cy="1310" r="11"/><text class="e11" x="550" y="1310">e56</text></g>
<g id="b-e48"><circle class="ec" cx="593" cy="1310" r="11"/><text class="e11" x="593" y="1310">e48</text></g>
<g id="b-e49"><circle class="ec" cx="636" cy="1310" r="11"/><text class="e11" x="636" y="1310">e49</text></g>
<g id="b-e50"><circle class="ec" cx="678" cy="1310" r="11"/><text class="e11" x="678" y="1310">e50</text></g>
<g id="b-e51"><circle class="ec" cx="721" cy="1310" r="11"/><text class="e11" x="721" y="1310">e51</text></g>
<g id="b-e52"><circle class="ec" cx="763" cy="1310" r="11"/><text class="e11" x="763" y="1310">e52</text></g>
<g id="b-e53"><circle class="ec" cx="812" cy="1312" r="11"/><text class="e11" x="812" y="1312">e53</text></g>
<g id="b-e54"><circle class="ec" cx="862" cy="1312" r="11"/><text class="e11" x="862" y="1312">e54</text></g>
<g id="b-e55"><circle class="ec" cx="915" cy="1312" r="11"/><text class="e11" x="915" y="1312">e55</text></g>

<g id="b-caption">
<text class="cap" x="117" y="1359" style="font-size:16.5px">Modelo Estrutural DI - X2(797)=1585,873; p=,000; x2df=1,990 CFI=,929; PCFI=,860;</text>
<text class="cap" y="1380" style="font-size:16.5px"><tspan x="117">GFI=,774;</tspan><tspan x="197">PGFI=,683;</tspan><tspan x="287">RMSEA=,061;</tspan><tspan x="397">p(&lt;=0.05)=,000;</tspan><tspan x="519">AIC=1797,873:</tspan><tspan x="636">BCC=1838,569;</tspan><tspan x="758">BIC=2178,517;</tspan><tspan x="872">ECVI=6,734</tspan></text>
</g>
</svg>
